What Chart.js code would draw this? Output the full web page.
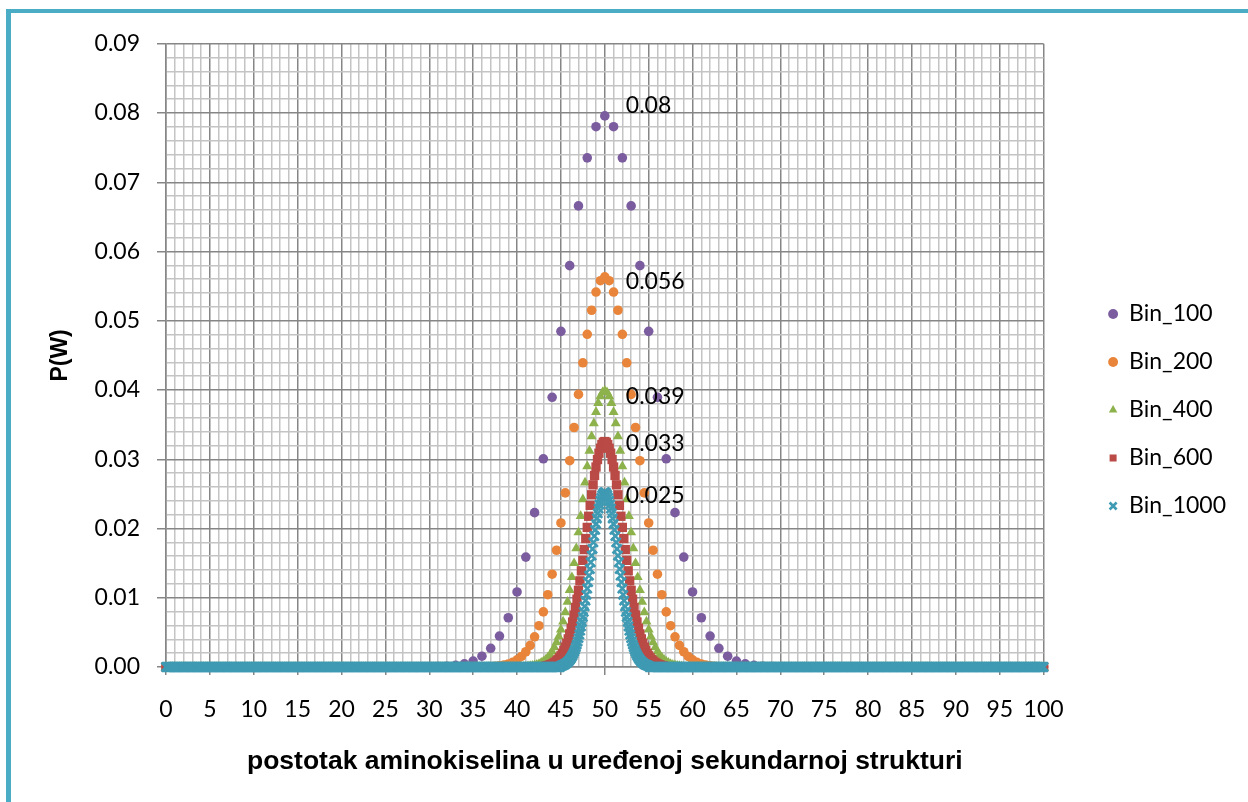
<!DOCTYPE html>
<html>
<head>
<meta charset="utf-8">
<script src="https://cdn.jsdelivr.net/npm/chart.js@4.4.1/dist/chart.umd.min.js"></script>
<style>
    html, body { margin: 0; padding: 0; background: #fff; overflow: hidden; }
    #frame {
        position: absolute; left: 6px; top: 9px;
        border-left: 5px solid #4bacc6;
        border-top: 4px solid #4bacc6;
    }
    canvas { display: block; }
</style>
</head>
<body>
<div id="frame"><canvas id="binChart" width="1237" height="789"></canvas></div>
<script>
// ===== data =====

// series names and the number of bins of each
const seriesNames = ['Bin_100', 'Bin_200', 'Bin_400', 'Bin_600', 'Bin_1000'];
const binCounts   = [100, 200, 400, 600, 1000];

// first bin index that leaves the zero line; outside these windows every point lies on 0
const firstBins   = [30, 75, 165, 260, 450];

// P(W) for consecutive bins, starting at firstBins[i]
const bin100Values = [
    0.00002, 0.00005, 0.00011, 0.00023, 0.00046, 0.00086, 0.00156, 0.00270, 0.00447, 0.00711,
    0.01084, 0.01587, 0.02229, 0.03007, 0.03895, 0.04847, 0.05796, 0.06659, 0.07353, 0.07803,
    0.07959,
    0.07803, 0.07353, 0.06659, 0.05796, 0.04847, 0.03895, 0.03007, 0.02229, 0.01587, 0.01084,
    0.00711, 0.00447, 0.00270, 0.00156, 0.00086, 0.00046, 0.00023, 0.00011, 0.00005, 0.00002
];
const bin200Values = [
    0.00011, 0.00017, 0.00028, 0.00044, 0.00068, 0.00103, 0.00152, 0.00220, 0.00313, 0.00436,
    0.00596, 0.00796, 0.01044, 0.01340, 0.01686, 0.02080, 0.02514, 0.02979, 0.03459, 0.03937,
    0.04393, 0.04805, 0.05152, 0.05415, 0.05579,
    0.05635,
    0.05579, 0.05415, 0.05152, 0.04805, 0.04393,
    0.03937, 0.03459, 0.02979, 0.02514, 0.02080, 0.01686, 0.01340, 0.01044, 0.00796, 0.00596,
    0.00436, 0.00313, 0.00220, 0.00152, 0.00103, 0.00068, 0.00044, 0.00028, 0.00017, 0.00011
];
const bin400Values = [
    0.00009, 0.00012, 0.00017, 0.00024, 0.00032, 0.00044, 0.00059, 0.00079, 0.00104, 0.00136,
    0.00175, 0.00224, 0.00283, 0.00355, 0.00440, 0.00540, 0.00657, 0.00790, 0.00942, 0.01111,
    0.01297, 0.01499, 0.01715, 0.01943, 0.02180, 0.02421, 0.02662, 0.02897, 0.03122, 0.03332,
    0.03520, 0.03681, 0.03812, 0.03908, 0.03967,
    0.03987,
    0.03967, 0.03908, 0.03812, 0.03681, 0.03520,
    0.03332, 0.03122, 0.02897, 0.02662, 0.02421, 0.02180, 0.01943, 0.01715, 0.01499, 0.01297,
    0.01111, 0.00942, 0.00790, 0.00657, 0.00540, 0.00440, 0.00355, 0.00283, 0.00224, 0.00175,
    0.00136, 0.00104, 0.00079, 0.00059, 0.00044, 0.00032, 0.00024, 0.00017, 0.00012, 0.00009
];
const bin600Values = [
    0.00016, 0.00020, 0.00026, 0.00034, 0.00043, 0.00055, 0.00069, 0.00086, 0.00107, 0.00132,
    0.00162, 0.00197, 0.00239, 0.00287, 0.00342, 0.00406, 0.00478, 0.00559, 0.00650, 0.00750,
    0.00859, 0.00979, 0.01107, 0.01244, 0.01389, 0.01540, 0.01696, 0.01855, 0.02016, 0.02177,
    0.02334, 0.02487, 0.02631, 0.02766, 0.02888, 0.02996, 0.03087, 0.03160, 0.03213, 0.03245,
    0.03256,
    0.03245, 0.03213, 0.03160, 0.03087, 0.02996, 0.02888, 0.02766, 0.02631, 0.02487, 0.02334,
    0.02177, 0.02016, 0.01855, 0.01696, 0.01540, 0.01389, 0.01244, 0.01107, 0.00979, 0.00859,
    0.00750, 0.00650, 0.00559, 0.00478, 0.00406, 0.00342, 0.00287, 0.00239, 0.00197, 0.00162,
    0.00132, 0.00107, 0.00086, 0.00069, 0.00055, 0.00043, 0.00034, 0.00026, 0.00020, 0.00016
];
const bin1000Values = [
    0.00017, 0.00021, 0.00025, 0.00030, 0.00037, 0.00044, 0.00053, 0.00063, 0.00074, 0.00087,
    0.00103, 0.00120, 0.00141, 0.00163, 0.00189, 0.00218, 0.00250, 0.00286, 0.00325, 0.00369,
    0.00417, 0.00469, 0.00526, 0.00587, 0.00653, 0.00723, 0.00797, 0.00876, 0.00958, 0.01042,
    0.01133, 0.01225, 0.01320, 0.01415, 0.01512, 0.01608, 0.01705, 0.01799, 0.01891, 0.01980,
    0.02065, 0.02145, 0.02219, 0.02287, 0.02347, 0.02400, 0.02443, 0.02478, 0.02502, 0.02518,
    0.02523,
    0.02518, 0.02502, 0.02478, 0.02443, 0.02400, 0.02347, 0.02287, 0.02219, 0.02145, 0.02065,
    0.01980, 0.01891, 0.01799, 0.01705, 0.01608, 0.01512, 0.01415, 0.01320, 0.01225, 0.01133,
    0.01042, 0.00958, 0.00876, 0.00797, 0.00723, 0.00653, 0.00587, 0.00526, 0.00469, 0.00417,
    0.00369, 0.00325, 0.00286, 0.00250, 0.00218, 0.00189, 0.00163, 0.00141, 0.00120, 0.00103,
    0.00087, 0.00074, 0.00063, 0.00053, 0.00044, 0.00037, 0.00030, 0.00025, 0.00021, 0.00017
];
const seriesValues = [bin100Values, bin200Values, bin400Values, bin600Values, bin1000Values];

// labels written next to each peak
const peakLabels = ['0.08', '0.056', '0.039', '0.033', '0.025'];

// axis tick labels
const xTickLabels = ['0', '5', '10', '15', '20', '25', '30', '35', '40', '45', '50',
                     '55', '60', '65', '70', '75', '80', '85', '90', '95', '100'];
const yTickLabels = ['0.00', '0.01', '0.02', '0.03', '0.04', '0.05', '0.06', '0.07', '0.08', '0.09'];

const xTitle = 'postotak aminokiselina u uređenoj sekundarnoj strukturi';
const yTitle = 'P(W)';

// ===== styles =====
const MAJOR_GRID = '#868686';
const MINOR_GRID = '#c4c4c4';

const seriesStyles = [
    { color: '#7b5d9f', pointStyle: 'circle',   radius: 4.8, border: 0,   labelDy: -10 },
    { color: '#e9853a', pointStyle: 'circle',   radius: 4.8, border: 0,   labelDy: 5 },
    { color: '#8db24c', pointStyle: 'triangle', radius: 5.8, border: 0,   labelDy: 6 },
    { color: '#b94a45', pointStyle: 'rect',     radius: 6.6, border: 0,   labelDy: 2 },
    { color: '#3f9ab3', pointStyle: 'crossRot', radius: 6.4, border: 2.6, labelDy: 3 }
];

// each series as points: bins outside the window are on the zero line
function buildPoints(n, firstBin, values) {
    const points = [];
    for (let k = 0; k <= n; k++) {
        const i = k - firstBin;
        points.push({ x: 100 * k / n, y: (i >= 0 && i < values.length) ? values[i] : 0 });
    }
    return points;
}

// datasets in reverse so that Bin_1000 is drawn on top (legend is reversed back)
const datasets = [];
for (let i = seriesNames.length - 1; i >= 0; i--) {
    const st = seriesStyles[i];
    datasets.push({
        label: seriesNames[i],
        data: buildPoints(binCounts[i], firstBins[i], seriesValues[i]),
        showLine: false,
        clip: false,
        pointStyle: st.pointStyle,
        pointRadius: st.radius,
        pointHoverRadius: st.radius,
        pointBackgroundColor: st.color,
        pointBorderColor: st.color,
        pointBorderWidth: st.border,
        backgroundColor: st.color,
        borderColor: st.color,
        peakIndex: binCounts[i] / 2,
        peakLabel: peakLabels[i],
        labelDy: st.labelDy
    });
}

function isMajorX(v) { return Math.round(v) % 5 === 0; }
function isMajorY(v) { return Math.round(v * 1000) % 10 === 0; }

// peak labels written right of the top point of each series
const peakLabelPlugin = {
    id: 'peakLabels',
    afterDatasetsDraw(chart) {
        const ctx = chart.ctx;
        ctx.save();
        ctx.font = '23px Lato';
        ctx.fillStyle = '#000';
        ctx.textAlign = 'left';
        ctx.textBaseline = 'middle';
        chart.data.datasets.forEach(function(ds, i) {
            const pt = chart.getDatasetMeta(i).data[ds.peakIndex];
            ctx.fillText(ds.peakLabel, pt.x + 21, pt.y + ds.labelDy);
        });
        ctx.restore();
    }
};

function draw() {
    Chart.defaults.font.family = 'Lato';
    Chart.defaults.color = '#000';

    new Chart(document.getElementById('binChart'), {
        type: 'scatter',
        data: { datasets: datasets },
        options: {
            responsive: false,
            animation: false,
            events: [],
            layout: { padding: { top: 27, left: 0, right: 12, bottom: 22 } },
            plugins: {
                tooltip: { enabled: false },
                legend: {
                    position: 'right',
                    reverse: true,
                    labels: {
                        usePointStyle: true,
                        boxWidth: 9,
                        boxHeight: 7,
                        padding: 25,
                        color: '#000',
                        font: { size: 23, family: 'Lato' }
                    }
                }
            },
            scales: {
                x: {
                    type: 'linear',
                    min: 0,
                    max: 100,
                    afterFit: function(scale) { scale.height = 113; },
                    ticks: {
                        stepSize: 1,
                        autoSkip: false,
                        maxRotation: 0,
                        padding: 21,
                        font: { size: 23 },
                        callback: function(v) {
                            const s = String(Math.round(v));
                            return xTickLabels.includes(s) && isMajorX(v) ? s : '';
                        }
                    },
                    grid: {
                        color: function(c) { return c.tick && isMajorX(c.tick.value) ? MAJOR_GRID : MINOR_GRID; },
                        lineWidth: 1.5,
                        tickLength: 8,
                        tickColor: function(c) { return c.tick && isMajorX(c.tick.value) ? MAJOR_GRID : 'rgba(0,0,0,0)'; }
                    },
                    border: { color: MAJOR_GRID, width: 1.5 },
                    title: {
                        display: true,
                        text: xTitle,
                        font: { size: 26.5, weight: 'bold', family: 'Liberation Sans' },
                        padding: { top: 0, bottom: 2 }
                    }
                },
                y: {
                    min: 0,
                    max: 0.09,
                    afterFit: function(scale) { scale.width = 155; },
                    ticks: {
                        stepSize: 0.002,
                        autoSkip: false,
                        padding: 17,
                        font: { size: 23 },
                        callback: function(v) {
                            return isMajorY(v) ? yTickLabels[Math.round(v * 100)] : '';
                        }
                    },
                    grid: {
                        color: function(c) { return c.tick && isMajorY(c.tick.value) ? MAJOR_GRID : MINOR_GRID; },
                        lineWidth: 1.5,
                        tickLength: 9,
                        tickColor: function(c) { return c.tick && isMajorY(c.tick.value) ? MAJOR_GRID : 'rgba(0,0,0,0)'; }
                    },
                    border: { color: MAJOR_GRID, width: 1.5 },
                    title: {
                        display: true,
                        text: yTitle,
                        font: { size: 23, weight: 'bold', family: 'Liberation Sans' },
                        padding: { top: 36, bottom: 0 }
                    }
                },
                // empty axis: keeps the gap between the plot and the legend
                gap: {
                    position: 'right',
                    display: true,
                    afterFit: function(scale) { scale.width = 40; },
                    grid: { display: false, drawTicks: false },
                    ticks: { display: false },
                    border: { display: false }
                }
            }
        },
        plugins: [peakLabelPlugin]
    });
}

if (document.fonts && document.fonts.load) {
    Promise.all([
        document.fonts.load('23px Lato'),
        document.fonts.load('bold 26px "Liberation Sans"')
    ]).then(draw, draw);
} else {
    draw();
}
</script>
</body>
</html>
